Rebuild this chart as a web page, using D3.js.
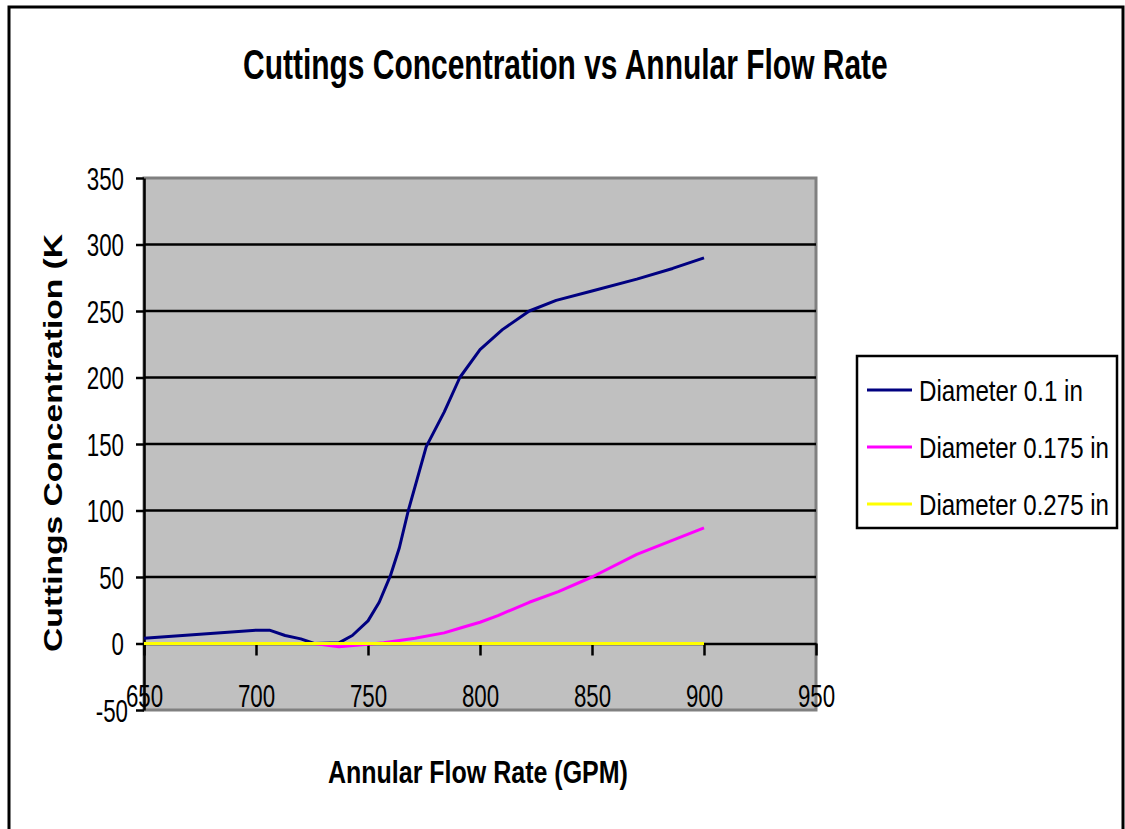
<!DOCTYPE html>
<html>
<head>
<meta charset="utf-8">
<script src="https://cdn.jsdelivr.net/npm/d3@7"></script>
<style>
	body { margin: 0; background: #fff; }
	text { font-family: 'Liberation Sans', Arial, sans-serif; fill: #000; }
</style>
</head>
<body>
<div id="chart"></div>
<script>
// flow rate (GPM) and concentration
var flow_01 = [650, 700, 706, 713, 720, 726, 737, 743, 750, 755, 760, 764, 768, 772, 776, 784, 791, 800, 810, 822, 834, 850, 870, 886, 900];
var conc_01 = [4, 10, 10, 6, 3.5, 0, 0.5, 6, 17, 31, 51, 72, 100, 124, 148, 174, 200, 221, 236, 250, 258, 265, 274, 282, 290];

var flow_0175 = [650, 700, 726, 737, 750, 757, 771, 784, 792, 800, 808, 822, 835, 850, 870, 885, 900];
var conc_0175 = [0, 0, 0, -2.5, -0.5, 0.5, 4, 8, 12, 16, 21, 31, 39, 50, 67, 77, 87];

var flow_0275 = [650, 700, 750, 800, 850, 900];
var conc_0275 = [0, 0, 0, 0, 0, 0];

var series_names = ['Diameter 0.1 in', 'Diameter 0.175 in', 'Diameter 0.275 in'];
var series_colors = ['#000080', '#FF00FF', '#FFFF00'];

var x_ticks = [650, 700, 750, 800, 850, 900, 950];
var y_ticks = [-50, 0, 50, 100, 150, 200, 250, 300, 350];

var series = [
	{ name: series_names[0], color: series_colors[0], values: flow_01.map((f, i) => ({ x: f, y: conc_01[i] })) },
	{ name: series_names[1], color: series_colors[1], values: flow_0175.map((f, i) => ({ x: f, y: conc_0175[i] })) },
	{ name: series_names[2], color: series_colors[2], values: flow_0275.map((f, i) => ({ x: f, y: conc_0275[i] })) },
];

var W = 1125;
var H = 829;
var squeeze = 0.72; // the reference text is narrow

var svg = d3.select('#chart').append('svg').attr('width', W).attr('height', H);

// squeeze a text horizontally so it fills the given width
function fitWidth(sel, width) {
	sel.each(function () {
		var t = d3.select(this);
		var natural = this.getComputedTextLength();
		var base = t.attr('transform') || '';
		t.attr('transform', base + ' scale(' + width / natural + ',1)');
	});
}

// outer frame (bottom edge is cut off in the reference)
svg.append('path')
	.attr('d', 'M9,829 L9,7 L1123,7 L1123,829')
	.attr('fill', 'none')
	.attr('stroke', '#000')
	.attr('stroke-width', 3);

var plot = { left: 144, top: 178, right: 816, bottom: 710 };

var x = d3.scaleLinear().domain([650, 950]).range([plot.left, plot.right]);
var y = d3.scaleLinear().domain([-50, 350]).range([plot.bottom, plot.top]);

// plot area
svg.append('rect')
	.attr('x', plot.left)
	.attr('y', plot.top)
	.attr('width', plot.right - plot.left)
	.attr('height', plot.bottom - plot.top)
	.attr('fill', '#C0C0C0')
	.attr('stroke', '#808080')
	.attr('stroke-width', 3);

// gridlines
svg.append('g')
	.selectAll('line')
	.data(y_ticks.filter((t) => t > 0 && t < 350))
	.enter()
	.append('line')
	.attr('x1', plot.left)
	.attr('x2', plot.right)
	.attr('y1', (d) => y(d))
	.attr('y2', (d) => y(d))
	.attr('stroke', '#000')
	.attr('stroke-width', 2.5);

// Y axis
var yAxis = svg.append('g')
	.attr('transform', 'translate(' + plot.left + ',0)')
	.call(d3.axisLeft(y).tickValues(y_ticks).tickFormat((d) => String(d)).tickSizeInner(8).tickSizeOuter(0));
yAxis.select('.domain').attr('stroke', '#000').attr('stroke-width', 2.5);
yAxis.selectAll('.tick line').attr('stroke', '#000').attr('stroke-width', 2.5);
yAxis.selectAll('text')
	.attr('font-size', 31)
	.attr('font-family', "'Liberation Sans', Arial, sans-serif")
	.attr('x', -20 / squeeze)
	.attr('dy', '0.36em')
	.attr('transform', 'scale(' + squeeze + ',1)');
yAxis.selectAll('.tick')
	.filter((d) => d === -50)
	.select('text')
	.attr('x', -16 / squeeze);

// X axis sits on zero
var xAxis = svg.append('g')
	.attr('transform', 'translate(0,' + y(0) + ')')
	.call(d3.axisBottom(x).tickValues(x_ticks).tickFormat((d) => String(d)).tickSizeInner(12).tickSizeOuter(0));
xAxis.select('.domain').attr('stroke', '#000').attr('stroke-width', 2.5);
xAxis.selectAll('.tick line').attr('stroke', '#000').attr('stroke-width', 2.5);
xAxis.selectAll('text')
	.attr('font-size', 31)
	.attr('font-family', "'Liberation Sans', Arial, sans-serif")
	.attr('y', 52)
	.attr('dy', '0.36em')
	.attr('transform', 'scale(' + squeeze + ',1)');

// lines
var line = d3.line()
	.x((d) => x(d.x))
	.y((d) => y(d.y));

svg.append('g')
	.selectAll('path')
	.data(series)
	.enter()
	.append('path')
	.attr('d', (d) => line(d.values))
	.attr('fill', 'none')
	.attr('stroke', (d) => d.color)
	.attr('stroke-width', 3)
	.attr('stroke-linejoin', 'round');

// title
svg.append('text')
	.attr('transform', 'translate(243,79)')
	.attr('font-size', 42)
	.attr('font-weight', 'bold')
	.text('Cuttings Concentration vs Annular Flow Rate')
	.call(fitWidth, 645);

// axis titles
svg.append('text')
	.attr('transform', 'translate(328,783)')
	.attr('font-size', 32)
	.attr('font-weight', 'bold')
	.text('Annular Flow Rate (GPM)')
	.call(fitWidth, 300);

svg.append('text')
	.attr('transform', 'translate(62,652) scale(0.78,1) rotate(-90)')
	.attr('font-size', 33)
	.attr('font-weight', 'bold')
	.text('Cuttings Concentration (K')
	.call(fitWidth, 418);

// legend
var legend = svg.append('g');
legend.append('rect')
	.attr('x', 857)
	.attr('y', 356)
	.attr('width', 260)
	.attr('height', 172)
	.attr('fill', '#fff')
	.attr('stroke', '#000')
	.attr('stroke-width', 2.5);

var legend_widths = [164, 190, 190];
var items = legend.selectAll('g.item')
	.data(series)
	.enter()
	.append('g')
	.attr('class', 'item')
	.attr('transform', (d, i) => 'translate(0,' + (390 + i * 57) + ')');
items.append('line')
	.attr('x1', 867)
	.attr('x2', 912)
	.attr('stroke', (d) => d.color)
	.attr('stroke-width', 3);
items.append('text')
	.attr('transform', 'translate(919,0)')
	.attr('dy', '0.36em')
	.attr('font-size', 30)
	.text((d) => d.name)
	.each(function (d, i) {
		d3.select(this).call(fitWidth, legend_widths[i]);
	});
</script>
</body>
</html>
